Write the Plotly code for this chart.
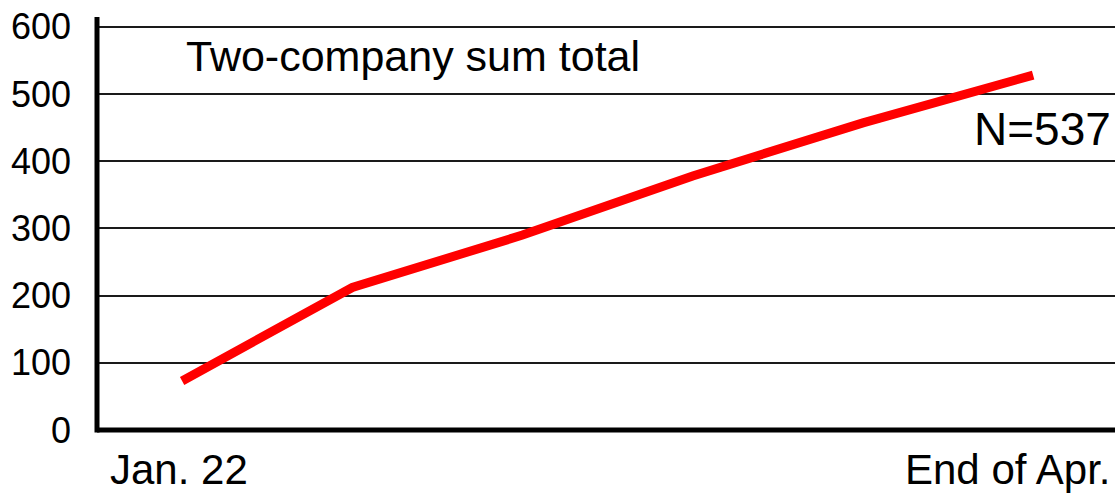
import plotly.graph_objects as go

# Data
categories = [0, 1, 2, 3, 4, 5]
values = [73, 212, 290, 378, 457, 528]
y_ticks = [0, 100, 200, 300, 400, 500, 600]
x_labels = ["Jan. 22", "End of Apr."]
title_text = "Two-company sum total"
n_text = "N=537"

FONT = "Liberation Sans, Arial, sans-serif"
W, H = 1115, 495
ML, MR, MT, MB = 97, 0, 17, 65
plot_h = H - MT - MB

fig = go.Figure()
fig.add_trace(go.Scatter(
    x=categories, y=values, mode="lines",
    line=dict(color="#FF0000", width=9),
    hoverinfo="skip", showlegend=False,
))

fig.update_layout(
    width=W, height=H,
    margin=dict(l=ML, r=MR, t=MT, b=MB),
    paper_bgcolor="white", plot_bgcolor="white",
    showlegend=False,
    font=dict(family=FONT, color="black"),
)
fig.update_xaxes(
    range=[-0.5, 5.481], showgrid=False, zeroline=False,
    showticklabels=False, ticks="", showline=False,
)
fig.update_yaxes(
    range=[0, 614.5], tickvals=y_ticks, ticktext=[str(v) for v in y_ticks],
    showgrid=True, gridcolor="#1a1a1a", gridwidth=1.5,
    zeroline=False, ticks="", ticklabelstandoff=25, showline=False,
    tickfont=dict(size=36, family=FONT, color="black"),
)

# axis lines (thick black, centred on the plot-area edges)
fig.add_shape(type="line", xref="paper", yref="paper", x0=0, x1=0,
              y0=-2.5 / plot_h, y1=1, line=dict(color="black", width=5))
fig.add_shape(type="line", xref="paper", yref="paper", x0=0, x1=1,
              y0=0, y1=0, line=dict(color="black", width=5))

label_font = dict(size=42, family=FONT, color="black")
fig.add_annotation(x=categories[0], y=-MB / plot_h, xref="x", yref="paper",
                   text=x_labels[0], showarrow=False, xanchor="center", yanchor="bottom",
                   xshift=-3, font=label_font)
fig.add_annotation(x=1, y=-MB / plot_h, xref="paper", yref="paper",
                   text=x_labels[1], showarrow=False, xanchor="right", yanchor="bottom",
                   xshift=-2, font=label_font)
fig.add_annotation(x=0.0855, y=0.9056, xref="paper", yref="paper",
                   text=title_text, showarrow=False, xanchor="left", yanchor="middle",
                   font=dict(size=43, family=FONT, color="black"))
fig.add_annotation(x=1, y=0.729, xref="paper", yref="paper",
                   text=n_text, showarrow=False, xanchor="right", yanchor="middle",
                   xshift=-2, font=dict(size=46, family=FONT, color="black"))

fig.write_html("out.html")
